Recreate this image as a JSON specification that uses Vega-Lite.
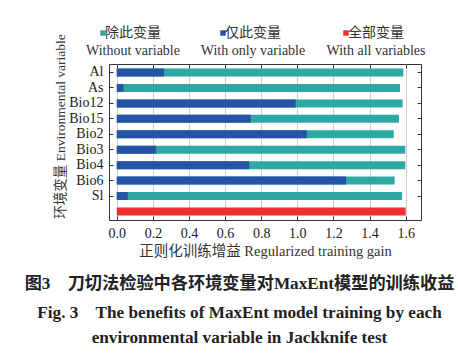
{
  "$schema": "https://vega.github.io/schema/vega-lite/v6.json",
  "width": 312,
  "height": 156,
  "autosize": {"type": "none"},
  "padding": {"left": 109, "top": 64, "right": 37, "bottom": 136},
  "background": "white",
  "config": {
    "font": "Liberation Serif, Noto Sans CJK SC",
    "view": {"stroke": "#333", "strokeWidth": 1}
  },
  "data": {
    "values": [
      {"var": "Al", "type": "Without", "gain": 1.587},
      {"var": "As", "type": "Without", "gain": 1.569},
      {"var": "Bio12", "type": "Without", "gain": 1.583},
      {"var": "Bio15", "type": "Without", "gain": 1.563},
      {"var": "Bio2", "type": "Without", "gain": 1.534},
      {"var": "Bio3", "type": "Without", "gain": 1.598},
      {"var": "Bio4", "type": "Without", "gain": 1.598},
      {"var": "Bio6", "type": "Without", "gain": 1.539},
      {"var": "Sl", "type": "Without", "gain": 1.58},
      {"var": "Al", "type": "Only", "gain": 0.262},
      {"var": "As", "type": "Only", "gain": 0.037},
      {"var": "Bio12", "type": "Only", "gain": 0.991},
      {"var": "Bio15", "type": "Only", "gain": 0.742},
      {"var": "Bio2", "type": "Only", "gain": 1.052},
      {"var": "Bio3", "type": "Only", "gain": 0.218},
      {"var": "Bio4", "type": "Only", "gain": 0.733},
      {"var": "Bio6", "type": "Only", "gain": 1.27},
      {"var": "Sl", "type": "Only", "gain": 0.061},
      {"var": "All", "type": "All", "gain": 1.6}
    ]
  },
  "title": {
    "text": "图3\u3000刀切法检验中各环境变量对MaxEnt模型的训练收益",
    "subtitle": ["Fig. 3\u00a0\u00a0\u00a0\u00a0The benefits of MaxEnt model training by each", "environmental variable in Jackknife test"],
    "orient": "bottom",
    "anchor": "middle",
    "frame": "bounds",
    "offset": 17,
    "fontSize": 17.2,
    "fontWeight": "bold",
    "color": "#222",
    "subtitleFontSize": 17.2,
    "subtitleFontWeight": "bold",
    "subtitleColor": "#222",
    "subtitleLineHeight": 25,
    "subtitlePadding": 12
  },
  "layer": [
    {
      "mark": {"type": "bar", "height": 8},
      "encoding": {
        "y": {
          "field": "var", "type": "nominal",
          "scale": {"domain": ["Al","As","Bio12","Bio15","Bio2","Bio3","Bio4","Bio6","Sl","All"], "paddingInner": 0.5, "paddingOuter": 0.3},
          "axis": {
            "orient": "left",
            "values": ["Al","As","Bio12","Bio15","Bio2","Bio3","Bio4","Bio6","Sl"],
            "title": "环境变量 Environmental variable",
            "titleFontSize": 13.5, "titleFontWeight": "normal", "titleColor": "#333",
            "titleX": -49,
            "titleY": 62,
            "titleBaseline": "middle",
            "labelFontSize": 14, "labelColor": "#222", "labelPadding": 10,
            "tickSize": -4, "tickColor": "#333",
            "domain": false, "grid": false
          }
        },
        "x": {
          "field": "gain", "type": "quantitative",
          "stack": null,
          "scale": {"domain": [-0.043, 1.685], "nice": false, "zero": false},
          "axis": {
            "orient": "bottom",
            "values": [0, 0.2, 0.4, 0.6, 0.8, 1.0, 1.2, 1.4, 1.6],
            "format": ".1f",
            "title": "正则化训练增益 Regularized training gain",
            "titleFontSize": 14.5, "titleFontWeight": "normal", "titleColor": "#333",
            "titlePadding": 4,
            "labelFontSize": 14, "labelColor": "#222", "labelPadding": 10,
            "tickSize": -4, "tickColor": "#333",
            "domain": false,
            "grid": true, "gridColor": "#d0d0d0", "gridWidth": 1
          }
        },
        "color": {
          "field": "type", "type": "nominal",
          "scale": {"domain": ["Without", "Only", "All"], "range": ["#2ea8a3", "#2653a5", "#ee3030"]},
          "legend": {
            "orient": "none",
            "legendX": -13,
            "legendY": -38,
            "direction": "horizontal",
            "title": null,
            "symbolType": "square",
            "symbolSize": 30,
            "symbolStrokeWidth": 0,
            "labelFontSize": 14,
            "labelColor": "#333",
            "labelAlign": "center",
            "labelOffset": 23,
            "labelLimit": 200,
            "columnPadding": 20,
            "encode": {"labels": {"update": {"lineHeight": {"value": 18}}}},
            "labelExpr": "datum.value == 'Without' ? ['除此变量', 'Without variable'] : datum.value == 'Only' ? ['仅此变量', 'With only variable'] : ['全部变量', 'With all variables']"
          }
        }
      }
    },
    {
      "mark": {"type": "bar", "height": 8, "opacity": 0},
      "encoding": {
        "y": {
          "field": "var", "type": "nominal",
          "axis": {
            "orient": "right",
            "values": ["Al","As","Bio12","Bio15","Bio2","Bio3","Bio4","Bio6","Sl"],
            "title": null, "labels": false, "domain": false, "grid": false,
            "tickSize": -4, "tickColor": "#333"
          }
        },
        "x": {
          "field": "gain", "type": "quantitative",
          "stack": null,
          "axis": {
            "orient": "top",
            "values": [0, 0.2, 0.4, 0.6, 0.8, 1.0, 1.2, 1.4, 1.6],
            "title": null, "labels": false, "domain": false, "grid": false,
            "tickSize": -4, "tickColor": "#333"
          }
        }
      }
    }
  ],
  "resolve": {"axis": {"x": "independent", "y": "independent"}}
}
